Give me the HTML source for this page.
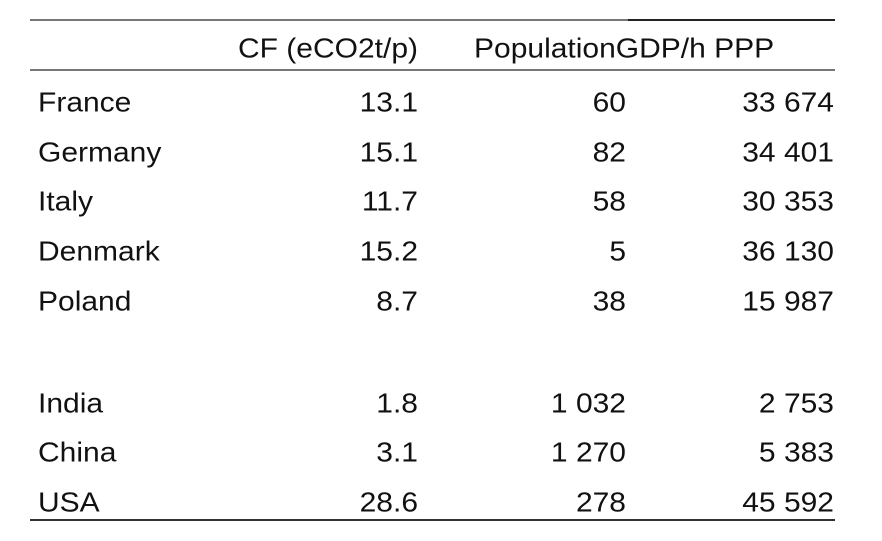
<!DOCTYPE html>
<html><head><style>
body{margin:0;width:882px;height:541px;background:#fff;position:relative;overflow:hidden;font-family:"Liberation Sans",sans-serif;color:#111;}
.t{position:absolute;font-size:30px;line-height:30px;white-space:nowrap;}
.l{transform:scale(1.0,0.92);transform-origin:left center;}
.r{transform:scale(1.0,0.92);transform-origin:right center;text-align:right;}
.line{position:absolute;height:2px;}
</style></head><body>
<div class="line" style="left:30px;top:19px;width:805px;background:#777;"></div>
<div class="line" style="left:628px;top:19px;width:207px;background:#222;"></div>
<div class="line" style="left:30px;top:69px;width:805px;background:#777;"></div>
<div class="line" style="left:30px;top:519px;width:805px;background:#333;"></div>

<div class="t r" style="right:464px;top:34px;">CF (eCO2t/p)</div>
<div class="t l" style="left:474px;top:34px;">PopulationGDP/h PPP</div>

<div class="t l" style="left:38px;top:88px;">France</div>
<div class="t r" style="right:464px;top:88px;">13.1</div>
<div class="t r" style="right:256px;top:88px;">60</div>
<div class="t r" style="right:48px;top:88px;">33 674</div>

<div class="t l" style="left:38px;top:138px;">Germany</div>
<div class="t r" style="right:464px;top:138px;">15.1</div>
<div class="t r" style="right:256px;top:138px;">82</div>
<div class="t r" style="right:48px;top:138px;">34 401</div>

<div class="t l" style="left:38px;top:187px;">Italy</div>
<div class="t r" style="right:464px;top:187px;">11.7</div>
<div class="t r" style="right:256px;top:187px;">58</div>
<div class="t r" style="right:48px;top:187px;">30 353</div>

<div class="t l" style="left:38px;top:237px;">Denmark</div>
<div class="t r" style="right:464px;top:237px;">15.2</div>
<div class="t r" style="right:256px;top:237px;">5</div>
<div class="t r" style="right:48px;top:237px;">36 130</div>

<div class="t l" style="left:38px;top:287px;">Poland</div>
<div class="t r" style="right:464px;top:287px;">8.7</div>
<div class="t r" style="right:256px;top:287px;">38</div>
<div class="t r" style="right:48px;top:287px;">15 987</div>

<div class="t l" style="left:38px;top:389px;">India</div>
<div class="t r" style="right:464px;top:389px;">1.8</div>
<div class="t r" style="right:256px;top:389px;">1 032</div>
<div class="t r" style="right:48px;top:389px;">2 753</div>

<div class="t l" style="left:38px;top:438px;">China</div>
<div class="t r" style="right:464px;top:438px;">3.1</div>
<div class="t r" style="right:256px;top:438px;">1 270</div>
<div class="t r" style="right:48px;top:438px;">5 383</div>

<div class="t l" style="left:38px;top:488px;">USA</div>
<div class="t r" style="right:464px;top:488px;">28.6</div>
<div class="t r" style="right:256px;top:488px;">278</div>
<div class="t r" style="right:48px;top:488px;">45 592</div>
</body></html>
